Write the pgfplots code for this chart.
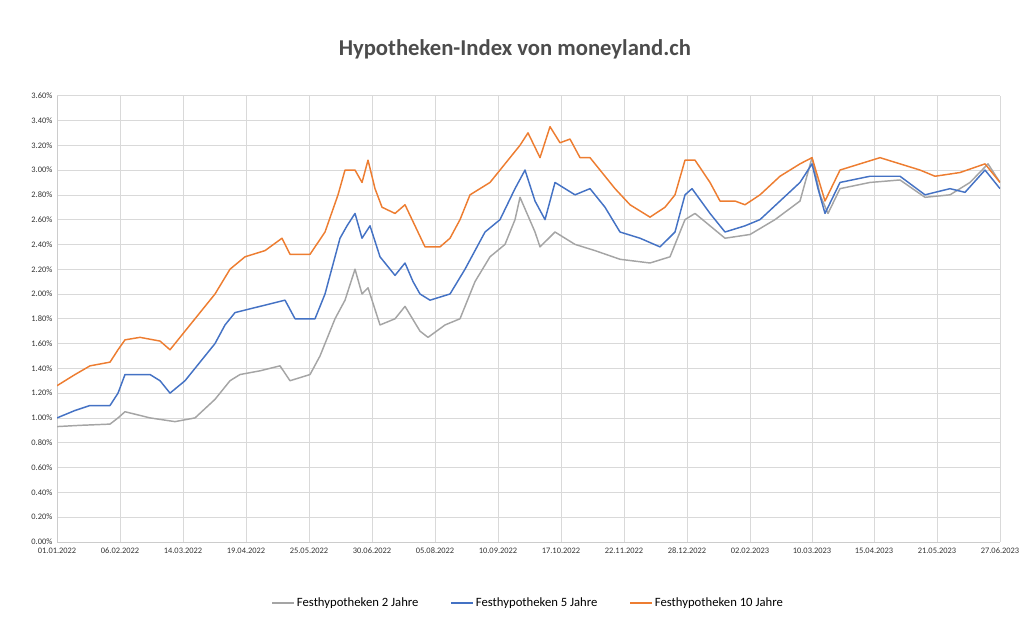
\documentclass[border=0pt]{standalone}
\usepackage{pgfplots}
\pgfplotsset{compat=1.18}
\usepackage{fontspec}
\setmainfont{Carlito}
\definecolor{cO}{HTML}{ED7D31}
\definecolor{cB}{HTML}{4472C4}
\definecolor{cG}{HTML}{A5A5A5}
\begin{document}
\begin{tikzpicture}
\path (0,0) rectangle (773pt,470pt);
\node[font=\bfseries\fontsize{17}{19}\selectfont, text=black!70] at (386pt,433pt) {Hypotheken-Index von moneyland.ch};
\begin{axis}[at={(42.75pt,63.75pt)}, anchor=south west, scale only axis,
 width=707pt, height=334.5pt, xmin=57, xmax=1000, ymin=0, ymax=3.6,
 xtick={57,120,183,246,309,372,435,498,561,624,687,750,812,874,937,1000},
 xticklabels={01.01.2022,06.02.2022,14.03.2022,19.04.2022,25.05.2022,30.06.2022,05.08.2022,10.09.2022,17.10.2022,22.11.2022,28.12.2022,02.02.2023,10.03.2023,15.04.2023,21.05.2023,27.06.2023},
 xticklabel style={text height=1.6ex, text depth=0.3ex, inner sep=1pt},
 ytick={0,0.2,...,3.61},
 yticklabel={\pgfmathprintnumber[fixed,fixed zerofill,precision=2]{\tick}\%},
 /pgf/number format/assume math mode=true,
 tick label style={font=\fontsize{6.3}{7}\selectfont, text=black!80},
 grid=major, grid style={black!15, line width=0.5pt},
 axis line style={black!20}, tick style={draw=none},
 axis x line*=bottom, axis y line*=left,
 legend style={at={(0.5,-0.137)}, anchor=center, draw=none, legend columns=3, font=\fontsize{9.5}{10}\selectfont, /tikz/every even column/.append style={column sep=22pt}},
 legend image code/.code={\draw[#1] (0pt,0pt) -- (16pt,0pt);},
 every axis plot/.append style={line width=1.1pt, line join=round}]
\addplot[cG] coordinates {(57,0.93)(80,0.94)(110,0.95)(118,1.0)(125,1.05)(150,1.0)(175,0.97)(195,1.0)(215,1.15)(230,1.3)(240,1.35)(260,1.38)(280,1.42)(290,1.3)(310,1.35)(320,1.5)(335,1.8)(345,1.95)(355,2.2)(362,2.0)(368,2.05)(380,1.75)(395,1.8)(405,1.9)(420,1.7)(428,1.65)(445,1.75)(460,1.8)(475,2.1)(490,2.3)(505,2.4)(515,2.6)(520,2.78)(535,2.5)(540,2.38)(555,2.5)(575,2.4)(595,2.35)(620,2.28)(650,2.25)(670,2.3)(685,2.6)(695,2.65)(710,2.55)(725,2.45)(750,2.48)(775,2.6)(800,2.75)(812,3.1)(820,2.8)(828,2.65)(840,2.85)(870,2.9)(900,2.92)(925,2.78)(950,2.8)(970,2.9)(988,3.05)(1000,2.9)};
\addplot[cB] coordinates {(57,1.0)(75,1.06)(90,1.1)(110,1.1)(118,1.2)(125,1.35)(150,1.35)(160,1.3)(170,1.2)(185,1.3)(195,1.4)(215,1.6)(225,1.75)(235,1.85)(260,1.9)(285,1.95)(295,1.8)(315,1.8)(325,2.0)(340,2.45)(347,2.55)(355,2.65)(362,2.45)(370,2.55)(380,2.3)(395,2.15)(405,2.25)(413,2.1)(420,2.0)(430,1.95)(450,2.0)(465,2.2)(485,2.5)(500,2.6)(515,2.85)(525,3.0)(535,2.75)(545,2.6)(555,2.9)(575,2.8)(590,2.85)(605,2.7)(620,2.5)(640,2.45)(660,2.38)(675,2.5)(685,2.8)(692,2.85)(710,2.65)(725,2.5)(745,2.55)(760,2.6)(780,2.75)(800,2.9)(812,3.05)(818,2.85)(825,2.65)(840,2.9)(870,2.95)(900,2.95)(925,2.8)(950,2.85)(965,2.82)(985,3.0)(1000,2.85)};
\addplot[cO] coordinates {(57,1.26)(75,1.35)(90,1.42)(110,1.45)(118,1.55)(125,1.63)(140,1.65)(160,1.62)(170,1.55)(185,1.7)(200,1.85)(215,2.0)(230,2.2)(245,2.3)(265,2.35)(282,2.45)(290,2.32)(310,2.32)(325,2.5)(338,2.8)(345,3.0)(355,3.0)(362,2.9)(368,3.08)(375,2.85)(382,2.7)(395,2.65)(405,2.72)(415,2.55)(425,2.38)(440,2.38)(450,2.45)(460,2.6)(470,2.8)(490,2.9)(505,3.05)(520,3.2)(528,3.3)(540,3.1)(550,3.35)(560,3.22)(570,3.25)(580,3.1)(590,3.1)(600,3.0)(615,2.85)(630,2.72)(650,2.62)(665,2.7)(675,2.8)(685,3.08)(695,3.08)(710,2.9)(720,2.75)(735,2.75)(745,2.72)(760,2.8)(780,2.95)(800,3.05)(812,3.1)(825,2.75)(840,3.0)(860,3.05)(880,3.1)(900,3.05)(920,3.0)(935,2.95)(960,2.98)(985,3.05)(1000,2.9)};
\legend{Festhypotheken 2 Jahre, Festhypotheken 5 Jahre, Festhypotheken 10 Jahre}
\end{axis}
\end{tikzpicture}
\end{document}
